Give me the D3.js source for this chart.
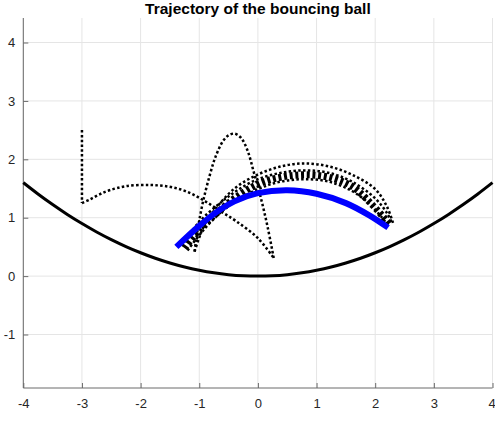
<!DOCTYPE html>
<html lang="en">
<head>
    <meta charset="UTF-8">
    <title>Trajectory of the bouncing ball</title>
    <script src="https://cdnjs.cloudflare.com/ajax/libs/d3/7.8.5/d3.min.js"></script>
    <style>
        body { margin: 0; background: #fff; font-family: "Liberation Sans", Arial, sans-serif; }
        svg { display: block; }
    </style>
</head>
<body>
    <svg id="chart" width="495" height="422"></svg>
    <script>
        // ---- data ----
        const xTicks = [-4, -3, -2, -1, 0, 1, 2, 3, 4];
        const yTicks = [-1, 0, 1, 2, 3, 4];

        // bowl surface
        const bowl = [[-4, 1.6], [-3.75, 1.406], [-3.5, 1.225], [-3.25, 1.056], [-3, 0.9],
                      [-2.75, 0.756], [-2.5, 0.625], [-2.25, 0.506], [-2, 0.4], [-1.75, 0.306],
                      [-1.5, 0.225], [-1.25, 0.156], [-1, 0.1], [-0.75, 0.056], [-0.5, 0.025],
                      [-0.25, 0.006], [0, 0], [0.25, 0.006], [0.5, 0.025], [0.75, 0.056],
                      [1, 0.1], [1.25, 0.156], [1.5, 0.225], [1.75, 0.306], [2, 0.4],
                      [2.25, 0.506], [2.5, 0.625], [2.75, 0.756], [3, 0.9], [3.25, 1.056],
                      [3.5, 1.225], [3.75, 1.406], [4, 1.6]];

        // ball path, one array per flight
        const drop = [[-3, 2.5], [-3, 1.25]];
        const flight1 = [[-3, 1.25], [-2.87, 1.31], [-2.7, 1.4], [-2.53, 1.47], [-2.25, 1.54],
                         [-1.85, 1.56], [-1.51, 1.53], [-1.22, 1.45], [-0.93, 1.3], [-0.65, 1.12],
                         [-0.37, 0.94], [0, 0.65], [0.27, 0.31]];
        const flight2 = [[0.27, 0.31], [0.17, 0.82], [0.06, 1.3], [-0.07, 1.78], [-0.18, 2.16],
                         [-0.29, 2.37], [-0.4, 2.44], [-0.5, 2.41], [-0.59, 2.32], [-0.72, 2.05],
                         [-0.82, 1.73], [-0.93, 1.3], [-1.0, 0.95], [-1.05, 0.65], [-1.08, 0.42]];
        const flight3 = [[-1.08, 0.42], [-1.0, 0.66], [-0.9, 0.9], [-0.75, 1.12], [-0.4, 1.5],
                         [0, 1.74], [0.4, 1.88], [0.8, 1.93], [1.2, 1.88], [1.6, 1.74],
                         [2.0, 1.49], [2.2, 1.19], [2.31, 0.89]];

        // later flights pile up into a band
        const bandTop = [[-1.3, 0.52], [-1.0, 0.93], [-0.62, 1.27], [-0.35, 1.47], [0, 1.66],
                         [0.4, 1.77], [0.8, 1.81], [1.2, 1.77], [1.6, 1.62], [2.0, 1.33],
                         [2.2, 1.08], [2.29, 0.9]];
        const bandMid = [[-1.25, 0.48], [-1.0, 0.8], [-0.7, 1.08], [-0.4, 1.33], [0, 1.575],
                         [0.4, 1.695], [0.8, 1.735], [1.2, 1.695], [1.6, 1.54], [1.95, 1.22],
                         [2.15, 1.0], [2.26, 0.87]];
        const bandLow = [[-1.2, 0.44], [-1.0, 0.7], [-0.8, 0.93], [-0.5, 1.2], [0, 1.49],
                         [0.4, 1.62], [0.8, 1.66], [1.2, 1.62], [1.6, 1.46], [1.9, 1.24],
                         [2.1, 1.02], [2.24, 0.84]];

        // final orbit
        const orbit = [[-1.39, 0.5], [-1.0, 0.86], [-0.7, 1.1], [-0.4, 1.28], [0, 1.42],
                       [0.5, 1.47], [1.0, 1.41], [1.5, 1.25], [1.9, 1.04], [2.22, 0.83]];

        const svg = d3.select("#chart");
        const plotLeft = 23.3, plotRight = 492.5, plotTop = 18, plotBottom = 388;

        const x = d3.scaleLinear().domain([-4, 4]).range([plotLeft, plotRight]);
        const y = d3.scaleLinear().domain([-1.916, 4.42]).range([plotBottom, plotTop]);

        // grid
        svg.append("g")
           .selectAll("line")
           .data(xTicks)
           .enter()
           .append("line")
           .attr("x1", d => x(d)).attr("x2", d => x(d))
           .attr("y1", plotTop).attr("y2", plotBottom)
           .attr("stroke", "#e5e5e5")
           .attr("stroke-width", 1);

        svg.append("g")
           .selectAll("line")
           .data(yTicks)
           .enter()
           .append("line")
           .attr("x1", plotLeft).attr("x2", plotRight)
           .attr("y1", d => y(d)).attr("y2", d => y(d))
           .attr("stroke", "#e5e5e5")
           .attr("stroke-width", 1);

        // axes, ticks pointing inward like MATLAB
        const xAxis = d3.axisBottom(x).tickValues(xTicks).tickSize(-5).tickPadding(11)
                        .tickFormat(d => String(d));
        const yAxis = d3.axisLeft(y).tickValues(yTicks).tickSize(-5).tickPadding(8)
                        .tickFormat(d => String(d));

        const gx = svg.append("g").attr("transform", `translate(0,${plotBottom})`).call(xAxis);
        const gy = svg.append("g").attr("transform", `translate(${plotLeft},0)`).call(yAxis);

        [gx, gy].forEach(g => {
            g.select(".domain").attr("stroke", "#6a6a6a");
            g.selectAll(".tick line").attr("stroke", "#6a6a6a");
            g.selectAll(".tick text")
             .attr("fill", "#262626")
             .attr("font-size", "13px")
             .attr("font-family", "'Liberation Sans', Arial, sans-serif");
        });
        gy.select(".domain").attr("d", `M0,${plotBottom}V${plotTop}`);
        gx.select(".domain").attr("d", `M${plotLeft},0H${plotRight}`);
        // keep the last x label inside the window
        gx.selectAll(".tick text").filter(d => d === 4).attr("dx", "-1");

        const line = d3.line()
            .x(d => x(d[0]))
            .y(d => y(d[1]))
            .curve(d3.curveCatmullRom.alpha(0.5));

        const plot = svg.append("g");

        // bowl
        plot.append("path")
            .datum(bowl)
            .attr("d", line.curve(d3.curveNatural))
            .attr("fill", "none")
            .attr("stroke", "#000")
            .attr("stroke-width", 3);
        line.curve(d3.curveCatmullRom.alpha(0.5));

        // dotted flights
        [drop, flight1, flight2, flight3, bandTop, bandLow].forEach(f => {
            plot.append("path")
                .datum(f)
                .attr("d", line)
                .attr("fill", "none")
                .attr("stroke", "#000")
                .attr("stroke-width", 2.5)
                .attr("stroke-dasharray", "2.5,2.3");
        });

        plot.append("path")
            .datum(bandMid)
            .attr("d", line)
            .attr("fill", "none")
            .attr("stroke", "#000")
            .attr("stroke-width", 7)
            .attr("stroke-dasharray", "3,2.7");

        // final orbit
        plot.append("path")
            .datum(orbit)
            .attr("d", line)
            .attr("fill", "none")
            .attr("stroke", "#0000ff")
            .attr("stroke-width", 6);

        svg.append("text")
           .attr("x", x(0))
           .attr("y", 13.5)
           .attr("text-anchor", "middle")
           .attr("font-size", "15.5px")
           .attr("font-weight", "bold")
           .attr("fill", "#000")
           .attr("font-family", "'Liberation Sans', Arial, sans-serif")
           .text("Trajectory of the bouncing ball");
    </script>
</body>
</html>
